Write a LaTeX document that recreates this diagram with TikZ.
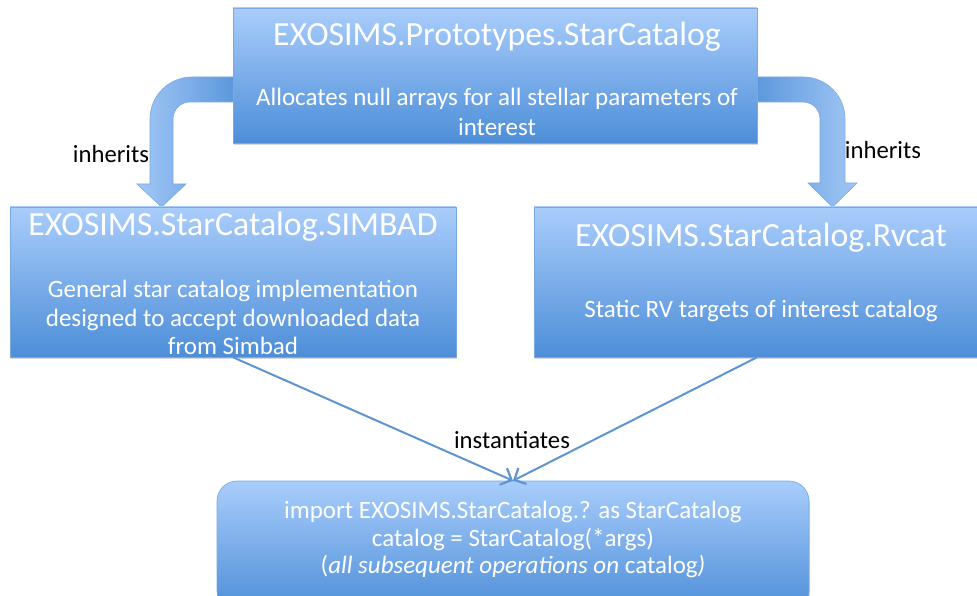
\documentclass[tikz,border=0pt]{standalone}
\usepackage{fontspec}
\setmainfont{Carlito}
\usetikzlibrary{calc,arrows.meta,shadows}
\definecolor{bxtop}{HTML}{A9CDFB}
\definecolor{bxbot}{HTML}{4D8ED8}
\definecolor{bxline}{HTML}{7AA8E0}
\definecolor{arlight}{HTML}{A2C7F6}
\definecolor{ardark}{HTML}{5A97DB}
\definecolor{connc}{HTML}{5E94D2}
\begin{document}
\begin{tikzpicture}[x=1pt,y=-1pt,
  box/.style={draw=bxline, line width=0.6pt, top color=bxtop, bottom color=bxbot,
    drop shadow={opacity=0.3,shadow xshift=1pt,shadow yshift=-2pt}, inner sep=0pt},
  ttl/.style={text=white, font=\fontsize{33.8}{38}\selectfont, inner sep=0pt, anchor=base},
  bodytxt/.style={text=white, font=\fontsize{25}{30}\selectfont, inner sep=0pt, anchor=base},
  lbl/.style={text=black, font=\fontsize{24.7}{28}\selectfont, inner sep=0pt, anchor=base},
  bendarrow/.style={draw=bxline, line width=0.6pt},
  connarrow/.style={draw=connc, line width=2pt, -{Straight Barb[length=9pt,width=18pt,line width=2.2pt]}}]
\useasboundingbox (0,0) rectangle (977,596);

% bent "inherits" arrows (drawn under the top box)
\path[bendarrow, left color=arlight, right color=ardark]
  (236,77) -- (192,77) .. controls (168.8,77) and (150,95.8) .. (150,119)
  -- (150,184) -- (137,184) -- (161.5,207) -- (186,184) -- (173,184)
  -- (173,119) .. controls (173,109.4) and (180.6,102) .. (190,102) -- (236,102) -- cycle;
\path[bendarrow, left color=ardark, right color=arlight]
  (754,77) -- (803,77) .. controls (826.2,77) and (845,95.8) .. (845,119)
  -- (845,183) -- (857,183) -- (832.5,207) -- (808,183) -- (820,183)
  -- (820,119) .. controls (820,109.4) and (812.4,102) .. (803,102) -- (754,102) -- cycle;

% boxes
\node[box, minimum width=524pt, minimum height=135pt] (top) at (495,75.5) {};
\node[box, minimum width=446pt, minimum height=150pt] (simbad) at (233,282) {};
\node[box, minimum width=446pt, minimum height=150pt] (rvcat) at (757,282) {};
\node[box, rounded corners=20pt, minimum width=592pt, minimum height=130pt] (imp) at (513,546) {};

% texts
\node[ttl] (toptitle) at (497,46) {EXOSIMS.Prototypes.StarCatalog};
\node[bodytxt] (topb1) at (497,106) {Allocates null arrays for all stellar parameters of};
\node[bodytxt] (topb2) at (497,136) {interest};

\node[ttl] (simtitle) at (233,236) {EXOSIMS.StarCatalog.SIMBAD};
\node[bodytxt] (simb1) at (233,297) {General star catalog implementation};
\node[bodytxt] (simb2) at (233,326) {designed to accept downloaded data};
\node[bodytxt] (simb3) at (233,354) {from Simbad};

\node[ttl] (rvtitle) at (761,247) {EXOSIMS.StarCatalog.Rvcat};
\node[bodytxt] (rvb1) at (761,317) {Static RV targets of interest catalog};

\node[bodytxt] (imp1) at (513,518) {import EXOSIMS.StarCatalog.? as StarCatalog};
\node[bodytxt] (imp2) at (513,546) {catalog = StarCatalog(*args)};
\node[bodytxt] (imp3) at (513,573) {(\textit{all subsequent operations on} catalog\textit{)}};

% labels
\node[lbl] (inhL) at (111,163) {inherits};
\node[lbl] (inhR) at (883,159) {inherits};
\node[lbl] (inst) at (512,448) {instantiates};

% instantiation connectors
\draw[connarrow] (simbad.south) -- (imp.north);
\draw[connarrow] (rvcat.south) -- (imp.north);
\end{tikzpicture}
\end{document}
